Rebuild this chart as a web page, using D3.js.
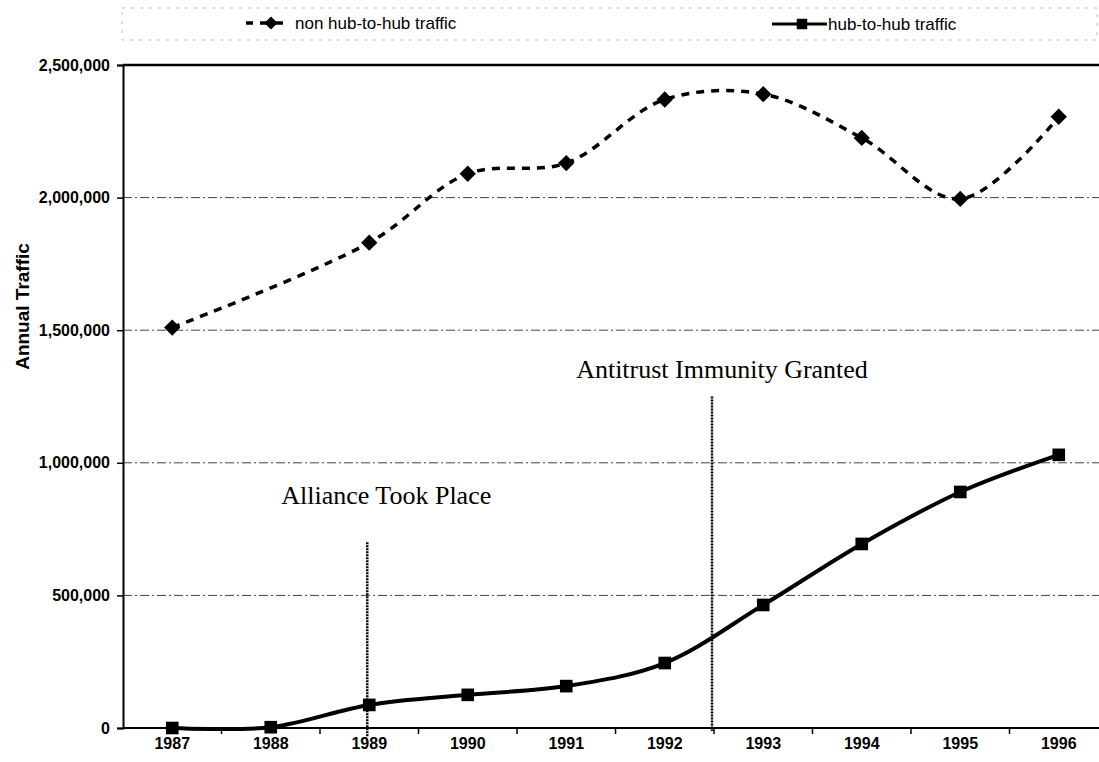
<!DOCTYPE html>
<html>
<head>
<meta charset="utf-8">
<script src="https://cdn.jsdelivr.net/npm/d3@7"></script>
<style>
  body { margin: 0; background: #fff; }
  svg { display: block; }
</style>
</head>
<body>
<svg id="chart"></svg>
<script>
// values
var years = ["1987", "1988", "1989", "1990", "1991", "1992", "1993", "1994", "1995", "1996"];
var nonHub = [1510000, null, 1830000, 2090000, 2130000, 2370000, 2390000, 2225000, 1995000, 2305000];
var hub = [0, 3000, 87000, 125000, 158000, 245000, 464000, 694000, 890000, 1030000];
var yTicks = [0, 500000, 1000000, 1500000, 2000000, 2500000];
var seriesNames = ["non hub-to-hub traffic", "hub-to-hub traffic"];
var eventLabels = ["Alliance Took Place", "Antitrust Immunity Granted"];

var W = 1099, H = 762;
var margin = {top: 65, left: 123, bottom: 34};
var svg = d3.select("#chart").attr("width", W).attr("height", H);

var x = d3.scaleBand().domain(years).range([margin.left, margin.left + 985]);
var y = d3.scaleLinear().domain([0, 2500000]).range([H - margin.bottom, margin.top]);
var cx = function(d) { return x(d) + x.bandwidth() / 2; };

// gridlines
svg.append("g")
  .selectAll("line")
  .data(yTicks.filter(function(d) { return d > 0 && d < 2500000; }))
  .enter().append("line")
    .attr("x1", margin.left).attr("x2", W)
    .attr("y1", y).attr("y2", y)
    .attr("stroke", "#444").attr("stroke-width", 1)
    .attr("stroke-dasharray", "9,3,2,3");

// top frame line
svg.append("line")
  .attr("x1", margin.left).attr("x2", W)
  .attr("y1", y(2500000)).attr("y2", y(2500000))
  .attr("stroke", "#000").attr("stroke-width", 2.5);

// y axis
var yAxis = svg.append("g")
  .attr("transform", "translate(" + margin.left + ",0)")
  .call(d3.axisLeft(y).tickValues(yTicks).tickFormat(d3.format(",")).tickSize(6).tickPadding(7));
yAxis.select(".domain").attr("stroke-width", 2);
yAxis.selectAll(".tick line").attr("stroke-width", 1.5);
yAxis.selectAll("text")
  .attr("font-family", "Liberation Sans").attr("font-size", "16px").attr("font-weight", "bold").attr("fill", "#000");

// x axis: labels at category centres, ticks on band edges
var xAxis = svg.append("g")
  .attr("transform", "translate(0," + y(0) + ")")
  .call(d3.axisBottom(x).tickSize(0).tickPadding(10));
xAxis.select(".domain").attr("stroke-width", 2).attr("d", "M" + margin.left + ",0H" + W);
xAxis.selectAll("text")
  .attr("font-family", "Liberation Sans").attr("font-size", "16px").attr("font-weight", "bold").attr("fill", "#000");
svg.append("g")
  .selectAll("line")
  .data(years.slice(1))
  .enter().append("line")
    .attr("x1", function(d) { return x(d); }).attr("x2", function(d) { return x(d); })
    .attr("y1", y(0)).attr("y2", y(0) + 6)
    .attr("stroke", "#000").attr("stroke-width", 1.5);

// axis title
svg.append("text")
  .attr("transform", "translate(29," + ((y(0) + y(2500000)) / 2 - 90) + ") rotate(-90)")
  .attr("text-anchor", "middle")
  .attr("font-family", "Liberation Sans").attr("font-size", "19px").attr("font-weight", "bold")
  .text("Annual Traffic");

// event markers
var events = [
  {label: eventLabels[0], at: cx("1989") - 2, top: 700000, below: 9, textY: 845000, dx: 19},
  {label: eventLabels[1], at: x("1993") - 2, top: 1250000, below: 3, textY: 1320000, dx: 10}
];
var ev = svg.append("g").selectAll("g").data(events).enter().append("g");
ev.append("line")
  .attr("x1", function(d) { return d.at; }).attr("x2", function(d) { return d.at; })
  .attr("y1", function(d) { return y(d.top); })
  .attr("y2", function(d) { return y(0) + d.below; })
  .attr("stroke", "#000").attr("stroke-width", 2.5).attr("stroke-dasharray", "2,1");
ev.append("text")
  .attr("x", function(d) { return d.at + d.dx; })
  .attr("y", function(d) { return y(d.textY); })
  .attr("text-anchor", "middle")
  .attr("font-family", "Liberation Serif").attr("font-size", "26px")
  .text(function(d) { return d.label; });

// series
var line = d3.line()
  .x(function(d) { return cx(d.year); })
  .y(function(d) { return y(d.value); })
  .curve(d3.curveCatmullRom.alpha(0.5));

var nonHubPts = years.map(function(yr, i) { return {year: yr, value: nonHub[i]}; })
  .filter(function(d) { return d.value != null; });
var hubPts = years.map(function(yr, i) { return {year: yr, value: hub[i]}; });

svg.append("path")
  .datum(nonHubPts)
  .attr("d", line)
  .attr("fill", "none").attr("stroke", "#000").attr("stroke-width", 3.5)
  .attr("stroke-dasharray", "8,7");

svg.append("path")
  .datum(hubPts)
  .attr("d", line)
  .attr("fill", "none").attr("stroke", "#000").attr("stroke-width", 4);

var diamond = d3.symbol().type(d3.symbolDiamond2).size(170);
var square = d3.symbol().type(d3.symbolSquare).size(160);

svg.append("g").selectAll("path")
  .data(nonHubPts)
  .enter().append("path")
    .attr("transform", function(d) { return "translate(" + cx(d.year) + "," + y(d.value) + ")"; })
    .attr("d", diamond);

svg.append("g").selectAll("path")
  .data(hubPts)
  .enter().append("path")
    .attr("transform", function(d) { return "translate(" + cx(d.year) + "," + y(d.value) + ")"; })
    .attr("d", square);

// legend
var legend = svg.append("g");
legend.append("rect")
  .attr("x", 122).attr("y", 8).attr("width", 975).attr("height", 32)
  .attr("fill", "none").attr("stroke", "#bbb").attr("stroke-width", 1)
  .attr("stroke-dasharray", "3,6");

var l1 = legend.append("g").attr("transform", "translate(246,23)");
l1.append("line").attr("x1", 0).attr("x2", 38).attr("y1", 0).attr("y2", 0)
  .attr("stroke", "#000").attr("stroke-width", 3.5).attr("stroke-dasharray", "8,7").attr("stroke-dashoffset", 1);
l1.append("path").attr("transform", "translate(25,0)").attr("d", d3.symbol().type(d3.symbolDiamond2).size(110));
l1.append("text").attr("x", 49).attr("y", 6)
  .attr("font-family", "Liberation Sans").attr("font-size", "17px")
  .text(seriesNames[0]);

var l2 = legend.append("g").attr("transform", "translate(772,24)");
l2.append("line").attr("x1", 0).attr("x2", 55).attr("y1", 0).attr("y2", 0)
  .attr("stroke", "#000").attr("stroke-width", 3);
l2.append("path").attr("transform", "translate(30,0)").attr("d", d3.symbol().type(d3.symbolSquare).size(110));
l2.append("text").attr("x", 56).attr("y", 6)
  .attr("font-family", "Liberation Sans").attr("font-size", "17px")
  .text(seriesNames[1]);
</script>
</body>
</html>
